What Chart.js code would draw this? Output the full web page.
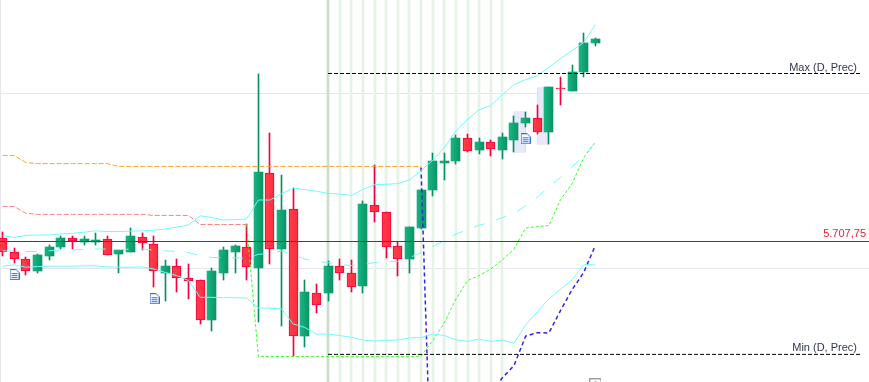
<!DOCTYPE html>
<html>
<head>
<meta charset="utf-8">
<script src="https://cdn.jsdelivr.net/npm/chart.js@4/dist/chart.umd.min.js"></script>
<style>
  html, body { margin: 0; padding: 0; background: #fff; }
  #box { width: 869px; height: 382px; }
</style>
</head>
<body>
<div id="box"><canvas id="candles"></canvas></div>
<script>
const opens = [5708.5,5704.75,5702.5,5699.25,5703.5,5706,5708.75,5707.5,5707.5,5708.25,5704,5704.75,5709,5707,5698.75,5700.5,5697.25,5696.75,5685.25,5698.75,5704.75,5706,5700,5727.25,5705.5,5717,5680.75,5693,5693,5700.75,5698.75,5695,5718,5716,5706.25,5702.5,5711.5,5722.25,5730,5730.75,5737.25,5733.75,5736,5733.75,5736.75,5741.5,5743,5739,5751.5,5750.75,5756,5764.25];
const highs = [5710.25,5705.75,5703.25,5704,5706.5,5709.25,5709.25,5709.25,5710,5709.25,5705.25,5711.5,5710,5709.25,5702.25,5702.75,5701.25,5696.75,5700,5706,5706.5,5712.5,5755.5,5738.5,5726.75,5723,5696.5,5695.5,5702,5702.75,5702.25,5719.25,5729.5,5716,5707.5,5711.75,5722.75,5733,5733,5738,5738.25,5737.25,5736.75,5738.75,5743.5,5744.75,5746.75,5751.75,5754.5,5758,5767.25,5765.75];
const lows = [5703.5,5701.5,5698,5698.75,5702.25,5705.5,5705.5,5706.75,5706.5,5703.75,5698.75,5704.75,5705.25,5694.5,5690.5,5693.25,5691.25,5684,5682,5696.75,5698.5,5696.75,5684.75,5701.25,5683.5,5675,5677.5,5687.25,5690.75,5696.5,5693.25,5693,5713.25,5703,5697.75,5698.75,5711.25,5720.75,5725.25,5729.75,5733.25,5732.75,5732,5731.25,5733.25,5740.25,5738.25,5735.5,5746.5,5750.75,5754.5,5763.5];
const closes = [5704.5,5702.5,5699.25,5703.75,5706,5708.5,5707.75,5708.25,5708,5703.75,5705.25,5709.25,5707.25,5699.25,5700.5,5697.25,5696.25,5685.25,5699.25,5705.25,5706.25,5700.25,5727.5,5705.5,5716.75,5680.75,5693.25,5689.5,5700.75,5698.75,5694.75,5718.25,5716,5706,5702.75,5711.75,5722.25,5730.5,5730.75,5737.25,5733.5,5736,5734,5737.5,5741.5,5743,5739,5751.75,5751.25,5756,5764.25,5765.5];

const upperBand = [5709.4,5708.9,5709.5,5709.6,5709.6,5709.9,5710.1,5710.4,5710.8,5710.6,5710.6,5710.7,5710.8,5711,5711.3,5711.9,5712.5,5715.1,5714.6,5713.9,5714,5714.2,5719.6,5719.6,5721.4,5723,5722.6,5722.1,5721.5,5721.3,5720.9,5722.6,5724,5724.1,5724.3,5725.3,5728,5730.9,5734.6,5739.4,5742.6,5745.4,5746.6,5749.7,5752.6,5754,5755.1,5757.5,5760,5762.3,5764.6,5769.7];
const midBand = [5705.1,5705,5704.9,5704.9,5705.1,5705.3,5705.3,5705.5,5705.6,5705.6,5705.4,5705.6,5705.6,5705.3,5705.1,5704.9,5704.6,5703.7,5703.2,5703.1,5703.1,5702.9,5704.1,5704.3,5705.1,5704,5702.7,5702.1,5701.7,5701.1,5700.9,5701.3,5701.7,5702,5702.1,5703.1,5704.6,5706.3,5708,5709.9,5711.1,5712.4,5713.3,5714.6,5715.7,5718,5720.4,5723.3,5726,5729.1,5732.3,5736];
const lowerBand = [5700.7,5701.1,5700.4,5700.6,5700.7,5700.7,5700.7,5700.8,5700.8,5700.5,5700.4,5700.4,5700.5,5699.9,5698.9,5698,5696.6,5691.8,5691.8,5691.7,5691.7,5691.6,5688.8,5688.7,5688.5,5684.2,5683.2,5681.3,5681.3,5680.9,5680.4,5679.6,5679.3,5679.5,5679.6,5680.2,5680.3,5681.3,5680.9,5679.7,5679.2,5679.9,5679.2,5679.6,5678.7,5683.9,5687.7,5691.3,5694.1,5696.8,5701.1,5701.1];

const orangeLevel = [5732.3,5732.3,5730.3,5730,5730,5730,5730,5730,5730,5730,5729.2,5729.2,5729.2,5729.2,5729.2,5729.2,5729.2,5729.2,5729.2,5729.2,5729.2,5729.2,5729.2,5729.2,5729.2,5729.2,5729.2,5729.2,5729.2,5729.2,5729.2,5729.2,5729.2,5729.2,5729.2,5729.2,5729.2];
const salmonLevel = [5717.75,5717.75,5715.8,5715.5,5715.5,5715.5,5715.5,5715.5,5715.5,5715.5,5715.5,5715.5,5715.5,5715.2,5715.2,5715.2,5715.2,5712.6,5712.6,5712.6,5712.6,5712.6];
const greenStop = [null,null,null,null,null,null,null,null,null,null,null,null,null,null,null,null,null,null,null,null,null,5712.6,5674.9,5674.9,5674.9,5674.9,5674.9,5674.9,5674.9,5674.9,5674.9,5674.9,5674.9,5674.9,5674.9,5674.9,5675,5679.4,5684.5,5691.3,5696.6,5698,5699.9,5702.5,5705.6,5711.6,5712,5712.3,5719.7,5724.3,5731.7,5736.1];
const blueStop = [null,null,null,null,null,null,null,null,null,null,null,null,null,null,null,null,null,null,null,null,null,null,null,null,null,null,null,null,null,null,null,null,null,null,null,null,5728.9,5625.1,5628,5633.7,5648,5659.4,5664.3,5668.8,5672.3,5680.7,5681.7,5681.6,5688,5694,5698.9,5706.6];

const lastPrice = 5707.75;
const dayMax = 5755.75;
const dayMin = 5675.5;
const gridPrices = [5700, 5750];
const gridBars = [74];
const fibBars = [28,29,30,31,32,33,34,35,36,37,38,39,40,41,42,43];
const zoneBars = [44.5, 46.5];
const zoneTops = [5744.9, 5751.7];
const zoneBottoms = [5733.2, 5735.5];
const noteBars = [1.02, 13.07, 45];
const notePrices = [5698.3, 5691.4, 5737.1];

const GREEN = '#0b9a6c', GREEN_WICK = '#08905f';
const RED_LINE = '#f5023c';
const BAND = '#70fbfb';

function series(values) {
    return values.map(function (v, i) { return { x: i, y: v }; });
}

// little page glyph for the news markers
function noteIcon() {
    var c = document.createElement('canvas');
    c.width = 10; c.height = 11;
    var g = c.getContext('2d');
    g.strokeStyle = '#2f6fd6';
    g.fillStyle = '#fff';
    g.lineWidth = 1;
    g.beginPath();
    g.moveTo(.5, .5); g.lineTo(6.5, .5); g.lineTo(9.5, 3.5); g.lineTo(9.5, 10.5); g.lineTo(.5, 10.5);
    g.closePath();
    g.fill(); g.stroke();
    g.fillStyle = '#2f6fd6';
    g.fillRect(2, 4, 6, 1); g.fillRect(2, 6, 6, 1); g.fillRect(2, 8, 6, 1);
    return c;
}

function plusBox() {
    var c = document.createElement('canvas');
    c.width = 12; c.height = 12;
    var g = c.getContext('2d');
    g.strokeStyle = '#9aa0a6';
    g.strokeRect(.5, .5, 11, 11);
    g.fillStyle = '#777';
    g.fillRect(5, 3, 2, 6);
    return c;
}

// body gradient, lighter on the left edge
function bodyFill(ctx) {
    var chart = ctx.chart;
    var up = closes[ctx.dataIndex] >= opens[ctx.dataIndex];
    var px = chart.scales.x ? chart.scales.x.getPixelForValue(ctx.dataIndex) : NaN;
    if (!isFinite(px)) return up ? GREEN : '#ff3344';
    var g = chart.ctx.createLinearGradient(px - 4.5, 0, px + 4.5, 0);
    if (up) {
        g.addColorStop(0, '#18b483');
        g.addColorStop(1, '#0a9464');
    } else {
        g.addColorStop(0, '#ff3f4a');
        g.addColorStop(1, '#ff2c3e');
    }
    return g;
}

// candles sit on whole pixels like the original
const snapBars = {
    id: 'snapBars',
    afterDatasetsUpdate: function (chart) {
        chart.data.datasets.forEach(function (ds, n) {
            if (!ds.snap) return;
            chart.getDatasetMeta(n).data.forEach(function (el) {
                if (ds.snap === 'even') {
                    el.x = Math.round(el.x);
                    return;
                }
                el.x = Math.floor(el.x) + .5;
                el.y = Math.floor(el.y);
                el.base = Math.floor(el.base);
            });
        });
    }
};

const labels = {
    id: 'labels',
    afterDatasetsDraw: function (chart) {
        var c = chart.ctx, y = chart.scales.y;
        c.save();
        c.font = '11px "Liberation Sans"';
        c.textAlign = 'right';
        c.textBaseline = 'alphabetic';
        c.fillStyle = '#33384a';
        c.fillText('Max (D, Prec)', 857, y.getPixelForValue(dayMax) - 3);
        c.fillText('Min (D, Prec)', 857, y.getPixelForValue(dayMin) - 3);
        c.fillStyle = '#f0202c';
        c.fillText('5.707,75', 866, y.getPixelForValue(lastPrice) - 5);
        c.restore();
    }
};

function lineSet(values, color, dash, width) {
    return {
        type: 'line',
        data: series(values),
        borderColor: color,
        borderWidth: width || 1,
        borderDash: dash || [],
        pointRadius: 0,
        tension: 0,
        order: 1
    };
}

new Chart(document.getElementById('candles'), {
    data: {
        datasets: [
            lineSet(upperBand, BAND),
            lineSet(midBand, BAND, [11, 12]),
            lineSet(lowerBand, BAND),
            lineSet(orangeLevel, '#ffa31f', [5, 2]),
            lineSet(salmonLevel, '#ff8080', [5, 2]),
            lineSet(greenStop, '#3dff2a', [3, 2]),
            lineSet(blueStop, '#3b22e0', [4, 3], 1.5),
            {
                type: 'line',
                data: [{ x: -1, y: lastPrice }, { x: 75, y: lastPrice }],
                borderColor: '#e00000',
                borderWidth: 1,
                pointRadius: 0,
                order: 0
            },
            {
                type: 'line',
                data: [{ x: 28, y: dayMax }, { x: 73.8, y: dayMax }],
                borderColor: '#000',
                borderWidth: 1,
                borderDash: [4, 2],
                pointRadius: 0,
                order: 0
            },
            {
                type: 'line',
                data: [{ x: 28, y: dayMin }, { x: 73.8, y: dayMin }],
                borderColor: '#000',
                borderWidth: 1,
                borderDash: [4, 2],
                pointRadius: 0,
                order: 0
            },
            {
                type: 'scatter',
                data: noteBars.map(function (b, i) { return { x: b, y: notePrices[i] }; }),
                pointStyle: noteIcon(),
                pointRadius: 6,
                order: 0
            },
            {
                type: 'scatter',
                data: [{ x: 51, y: 5666.9 }],
                pointStyle: plusBox(),
                pointRadius: 6,
                clip: false,
                order: 0
            },
            {
                type: 'bar',
                data: opens.map(function (o, i) { return { x: i, y: [o, closes[i]] }; }),
                barThickness: 9,
                backgroundColor: bodyFill,
                borderColor: function (ctx) {
                    return closes[ctx.dataIndex] >= opens[ctx.dataIndex] ? GREEN : RED_LINE;
                },
                borderWidth: function (ctx) {
                    return closes[ctx.dataIndex] >= opens[ctx.dataIndex] ? 0 : 1;
                },
                borderSkipped: false,
                grouped: false,
                snap: true,
                order: 2
            },
            {
                type: 'bar',
                data: lows.map(function (l, i) { return { x: i, y: [l, highs[i]] }; }),
                barThickness: 1,
                backgroundColor: function (ctx) {
                    return closes[ctx.dataIndex] >= opens[ctx.dataIndex] ? GREEN_WICK : RED_LINE;
                },
                grouped: false,
                snap: true,
                order: 3
            },
            {
                type: 'bar',
                data: zoneBars.map(function (b, i) { return { x: b, y: [zoneBottoms[i], zoneTops[i]] }; }),
                barThickness: 12,
                backgroundColor: '#e8e8fb',
                borderColor: '#dcdcf0',
                borderWidth: 1,
                borderSkipped: false,
                grouped: false,
                order: 4
            },
            {
                type: 'bar',
                data: fibBars.map(function (b) { return { x: b, y: [5600, 5800] }; }),
                barThickness: 2,
                backgroundColor: function (ctx) {
                    return ctx.dataIndex === 0 ? '#c8dfce' : '#e6f2e6';
                },
                grouped: false,
                snap: 'even',
                order: 5
            }
        ]
    },
    options: {
        animation: false,
        responsive: true,
        maintainAspectRatio: false,
        events: [],
        layout: { padding: 0, autoPadding: false },
        plugins: { legend: { display: false }, tooltip: { enabled: false } },
        scales: {
            x: {
                type: 'linear',
                min: -0.23,
                max: 74.55,
                offset: false,
                border: { display: false },
                ticks: { display: false },
                afterBuildTicks: function (axis) {
                    axis.ticks = gridBars.map(function (v) { return { value: v }; });
                },
                afterFit: function (axis) { axis.height = 0; },
                grid: { color: '#e6e6ee', drawTicks: false, tickLength: 0 }
            },
            y: {
                min: 5667.61,
                max: 5776.75,
                border: { display: false },
                ticks: { display: false },
                afterBuildTicks: function (axis) {
                    axis.ticks = gridPrices.map(function (v) { return { value: v }; });
                },
                afterFit: function (axis) { axis.width = 0; },
                grid: { color: '#e6e6ee', drawTicks: false, tickLength: 0 }
            }
        }
    },
    plugins: [snapBars, labels]
});
</script>
</body>
</html>
